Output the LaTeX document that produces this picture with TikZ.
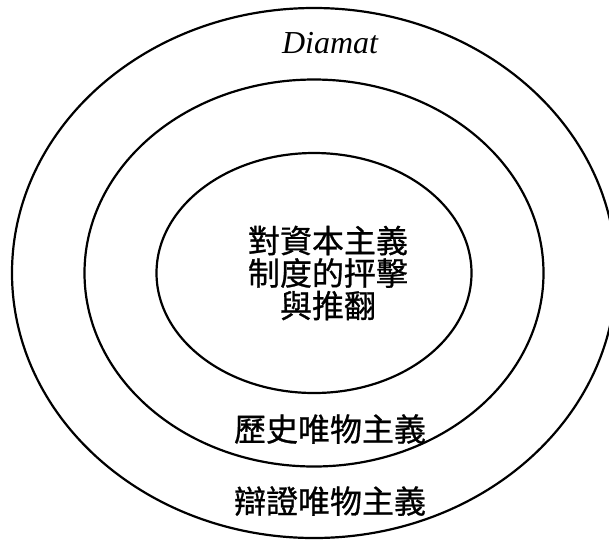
\documentclass[tikz,border=0pt]{standalone}
\usepackage{fontspec}
\setmainfont{Liberation Serif}
\newfontfamily\cjk[FakeBold=0.8]{Noto Sans CJK TC}
\tikzset{ring/.style={line width=2.2pt},
  cjklabel/.style={font=\cjk\fontsize{32}{32.5}\selectfont,inner sep=0pt,align=center}}

\begin{document}
\begin{tikzpicture}[line cap=round,line join=round,x=1pt,y=-1pt]
\useasboundingbox (0,0) rectangle (609,539);
\clip (0,0) rectangle (609,539);
% three nested rings
\coordinate (mid) at (314,273);
\draw[ring] (mid) ellipse [x radius=302, y radius=265];
\draw[ring] (mid) ellipse [x radius=229.5, y radius=193.5];
\draw[ring] (mid) ellipse [x radius=157.5, y radius=120];
\node[font=\itshape\fontsize{32}{32}\selectfont,anchor=base] (diamat) at (330,53) {Diamat};
\node[cjklabel] (core) at (328,273) {對資本主義\\制度的抨擊\\與推翻};
\node[cjklabel] (histmat) at (330,429) {歷史唯物主義};
\node[cjklabel] (dialmat) at (330,501) {辯證唯物主義};
\end{tikzpicture}
\end{document}
